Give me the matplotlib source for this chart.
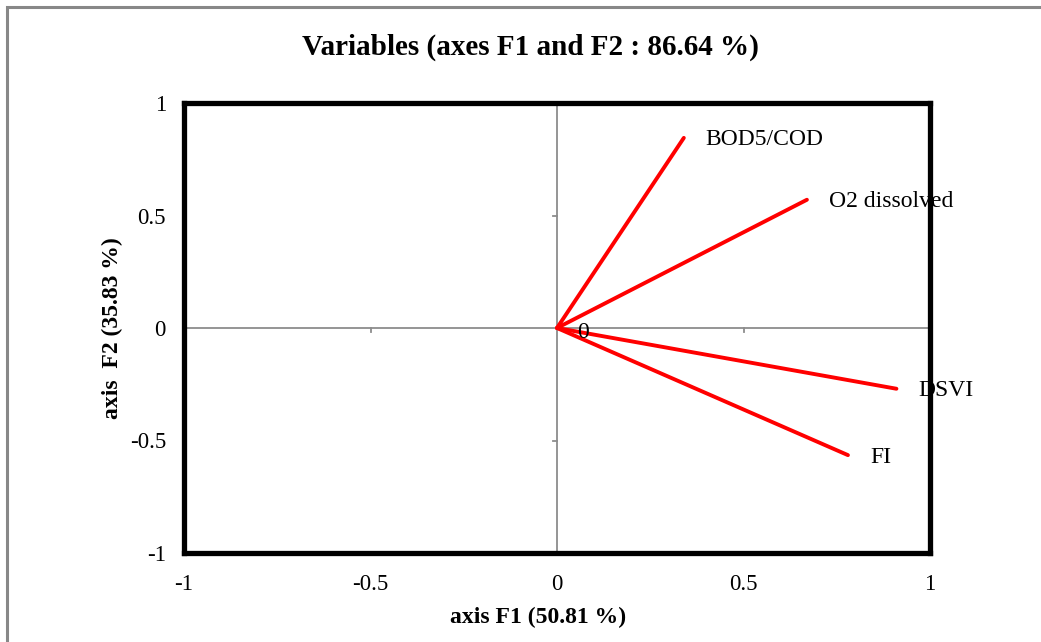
import matplotlib
matplotlib.use("Agg")
import matplotlib.pyplot as plt
from matplotlib.patches import Rectangle

variables = ["BOD5/COD", "O2 dissolved", "DSVI", "FI"]
f1 = [0.34, 0.67, 0.91, 0.78]
f2 = [0.845, 0.57, -0.27, -0.565]
ticks = [-1, -0.5, 0, 0.5, 1]
tick_labels = ["-1", "-0.5", "0", "0.5", "1"]

plt.rcParams['font.family'] = ['Liberation Serif', 'DejaVu Serif']

W, H = 1041, 642
fig = plt.figure(figsize=(W/100, H/100), dpi=100)
# outer grey border
fig.patches.append(Rectangle((7/W, -0.1), 1.2, 1 - 7/H + 0.1, transform=fig.transFigure,
                             fill=False, edgecolor='#888888', linewidth=2.2))

ax = fig.add_axes([184/W, 1 - 553/H, (930-184)/W, (553-103)/H])
ax.set_xlim(-1, 1)
ax.set_ylim(-1, 1)
for s in ax.spines.values():
    s.set_linewidth(3.8)
    s.set_color('black')
    s.set_capstyle('projecting')
    s.set_zorder(5)
ax.set_xticks(ticks)
ax.set_xticklabels(tick_labels)
ax.set_yticks(ticks)
ax.set_yticklabels(tick_labels)
ax.tick_params(length=0, labelsize=16.5)
ax.tick_params(axis='x', pad=15)
ax.tick_params(axis='y', pad=13)

# central axes in grey
ax.axhline(0, color='#8c8c8c', lw=1.3, zorder=1)
ax.axvline(0, color='#8c8c8c', lw=1.3, zorder=1)
for t in [-0.5, 0.5]:
    ax.plot([t, t], [0, -0.018], color='#8c8c8c', lw=1.3, zorder=1)
    ax.plot([0, -0.012], [t, t], color='#8c8c8c', lw=1.3, zorder=1)
for t in [-1, 1]:
    ax.plot([0, -0.012], [t, t], color='#8c8c8c', lw=1.3, zorder=1, clip_on=False)

for name, x, y in zip(variables, f1, f2):
    ax.plot([0, x], [0, y], color='#ff0000', lw=2.8, solid_capstyle='round', zorder=3)
    ax.annotate(name, (x, y), xytext=(22, -2), textcoords='offset pixels',
                ha='left', va='center', fontsize=17, zorder=4, annotation_clip=False)
ax.text(0.07, -0.02, "0", ha='center', va='center', fontsize=17, zorder=4)

fig.text(530/W, 1 - 47/H, "Variables (axes F1 and F2 : 86.64 %)", ha='center', va='center',
         fontsize=21, fontweight='bold')
fig.text(538/W, 1 - 617/H, "axis F1 (50.81 %)", ha='center', va='center',
         fontsize=17, fontweight='bold')
fig.text(112/W, 1 - 328/H, "axis  F2 (35.83 %)", ha='center', va='center',
         fontsize=17, fontweight='bold', rotation=90)

fig.savefig("out.png", dpi=100)
